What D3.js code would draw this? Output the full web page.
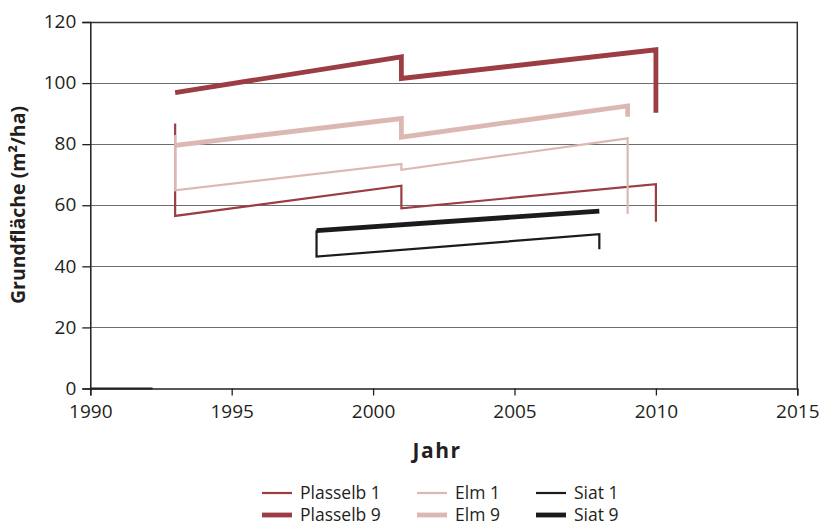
<!DOCTYPE html>
<html><head><meta charset="utf-8">
<script src="https://cdn.jsdelivr.net/npm/d3@7"></script>
<style>body{margin:0;background:#fff;} text{font-family:"Open Sans",sans-serif;fill:#231f20;}</style>
</head><body><svg id="c" width="819" height="527"></svg>
<script>
const xTicks = [1990, 1995, 2000, 2005, 2010, 2015];
const yTicks = [0, 20, 40, 60, 80, 100, 120];
const seriesNames = ["Plasselb 1", "Plasselb 9", "Elm 1", "Elm 9", "Siat 1", "Siat 9"];
const plasselb1Years = [1993, 1993, 2001, 2001, 2010, 2010];
const plasselb1Values = [86.8, 56.5, 66.4, 59.0, 66.9, 54.6];
const plasselb9Years = [1993, 2001, 2001, 2010, 2010];
const plasselb9Values = [96.9, 108.6, 101.5, 110.9, 90.3];
const elm1Years = [1993, 1993, 2001, 2001, 2009, 2009];
const elm1Values = [83.0, 64.9, 73.5, 71.6, 81.9, 57.1];
const elm9Years = [1993, 2001, 2001, 2009, 2009];
const elm9Values = [79.6, 88.4, 82.3, 92.5, 89.0];
const siat1Years = [1998, 1998, 2008, 2008];
const siat1Values = [51.8, 43.2, 50.5, 45.6];
const siat9Years = [1998, 2008];
const siat9Values = [51.7, 58.1];
const baselineYears = [1990, 1992.2];
const baselineValues = [0, 0];

const colors = {"Plasselb": "#9b3d43", "Elm": "#dcb8b3", "Siat": "#1c1a1b"};
const series = [
  {name: "Plasselb 1", years: plasselb1Years, values: plasselb1Values, color: colors.Plasselb, w: 2.2},
  {name: "Plasselb 9", years: plasselb9Years, values: plasselb9Values, color: colors.Plasselb, w: 4.8},
  {name: "Elm 1", years: elm1Years, values: elm1Values, color: colors.Elm, w: 2.2},
  {name: "Elm 9", years: elm9Years, values: elm9Values, color: colors.Elm, w: 4.8},
  {name: "Siat 1", years: siat1Years, values: siat1Values, color: colors.Siat, w: 2.2},
  {name: "Siat 9", years: siat9Years, values: siat9Values, color: colors.Siat, w: 4.8}
];

const svg = d3.select("#c");
const x = d3.scaleLinear().domain([1990, 2015]).range([90.3, 797.3]);
const y = d3.scaleLinear().domain([0, 120]).range([388.5, 22]);

// gridlines
svg.append("g").selectAll("line").data(yTicks.filter(d => d > 0 && d < 120)).join("line")
  .attr("x1", x(1990)).attr("x2", x(2015)).attr("y1", d => Math.round(y(d)) + 0.5).attr("y2", d => Math.round(y(d)) + 0.5)
  .attr("stroke", "#6d6d6d").attr("stroke-width", 1.2);
// top & right border
svg.append("path")
  .attr("d", `M${x(1990)},${Math.round(y(120)) + 0.5}H${x(2015)}V${y(0)}`)
  .attr("fill", "none").attr("stroke", "#333").attr("stroke-width", 1.5);

// axes
const xAxis = d3.axisBottom(x).tickValues(xTicks).tickFormat(d3.format("d")).tickSize(7).tickPadding(9);
const gx = svg.append("g").attr("transform", `translate(0,${y(0)})`).call(xAxis);
gx.select(".domain").attr("stroke", "#231f20").attr("stroke-width", 1.5);
gx.selectAll(".tick line").attr("stroke", "#231f20").attr("stroke-width", 1.3);
gx.selectAll("text").attr("font-size", 19).attr("font-family", "Open Sans").attr("fill", "#231f20");

const yAxis = d3.axisLeft(y).tickValues(yTicks).tickSize(8).tickPadding(6);
const gy = svg.append("g").attr("transform", `translate(${x(1990)},0)`).call(yAxis);
gy.select(".domain").attr("stroke", "#231f20").attr("stroke-width", 1.5);
gy.selectAll(".tick line").attr("stroke", "#231f20").attr("stroke-width", 1.3);
gy.selectAll("text").attr("font-size", 19).attr("font-family", "Open Sans").attr("fill", "#231f20").attr("dy", "0.3em");

// baseline segment
const line = d3.line().x(d => x(d[0])).y(d => y(d[1]));
svg.append("path").datum(baselineYears.map((v, i) => [v, baselineValues[i]]))
  .attr("d", line).attr("fill", "none").attr("stroke", "#231f20").attr("stroke-width", 2);

// series
series.forEach(s => {
  svg.append("path").datum(s.years.map((v, i) => [v, s.values[i]]))
    .attr("d", line).attr("fill", "none").attr("stroke", s.color)
    .attr("stroke-width", s.w).attr("stroke-linejoin", "miter").attr("stroke-miterlimit", 10);
});

// axis titles
svg.append("text").attr("x", 437).attr("y", 458).attr("text-anchor", "middle")
  .attr("font-size", 21).attr("font-weight", "bold").attr("letter-spacing", 1.5).text("Jahr");
svg.append("text").attr("transform", "translate(25,205) rotate(-90)").attr("text-anchor", "middle")
  .attr("font-size", 19.5).attr("font-weight", "bold").text("Grundfläche (m²/ha)");

// legend
const legCols = [262, 417, 536];
const legRows = [493, 515];
const lg = svg.append("g");
series.forEach((s, i) => {
  const cx = legCols[Math.floor(i / 2)], cy = legRows[i % 2];
  lg.append("line").attr("x1", cx).attr("x2", cx + 30).attr("y1", cy).attr("y2", cy)
    .attr("stroke", s.color).attr("stroke-width", s.w);
  lg.append("text").attr("x", cx + 38).attr("y", cy + 6).attr("font-size", 17.5).text(s.name);
});
</script></body></html>
